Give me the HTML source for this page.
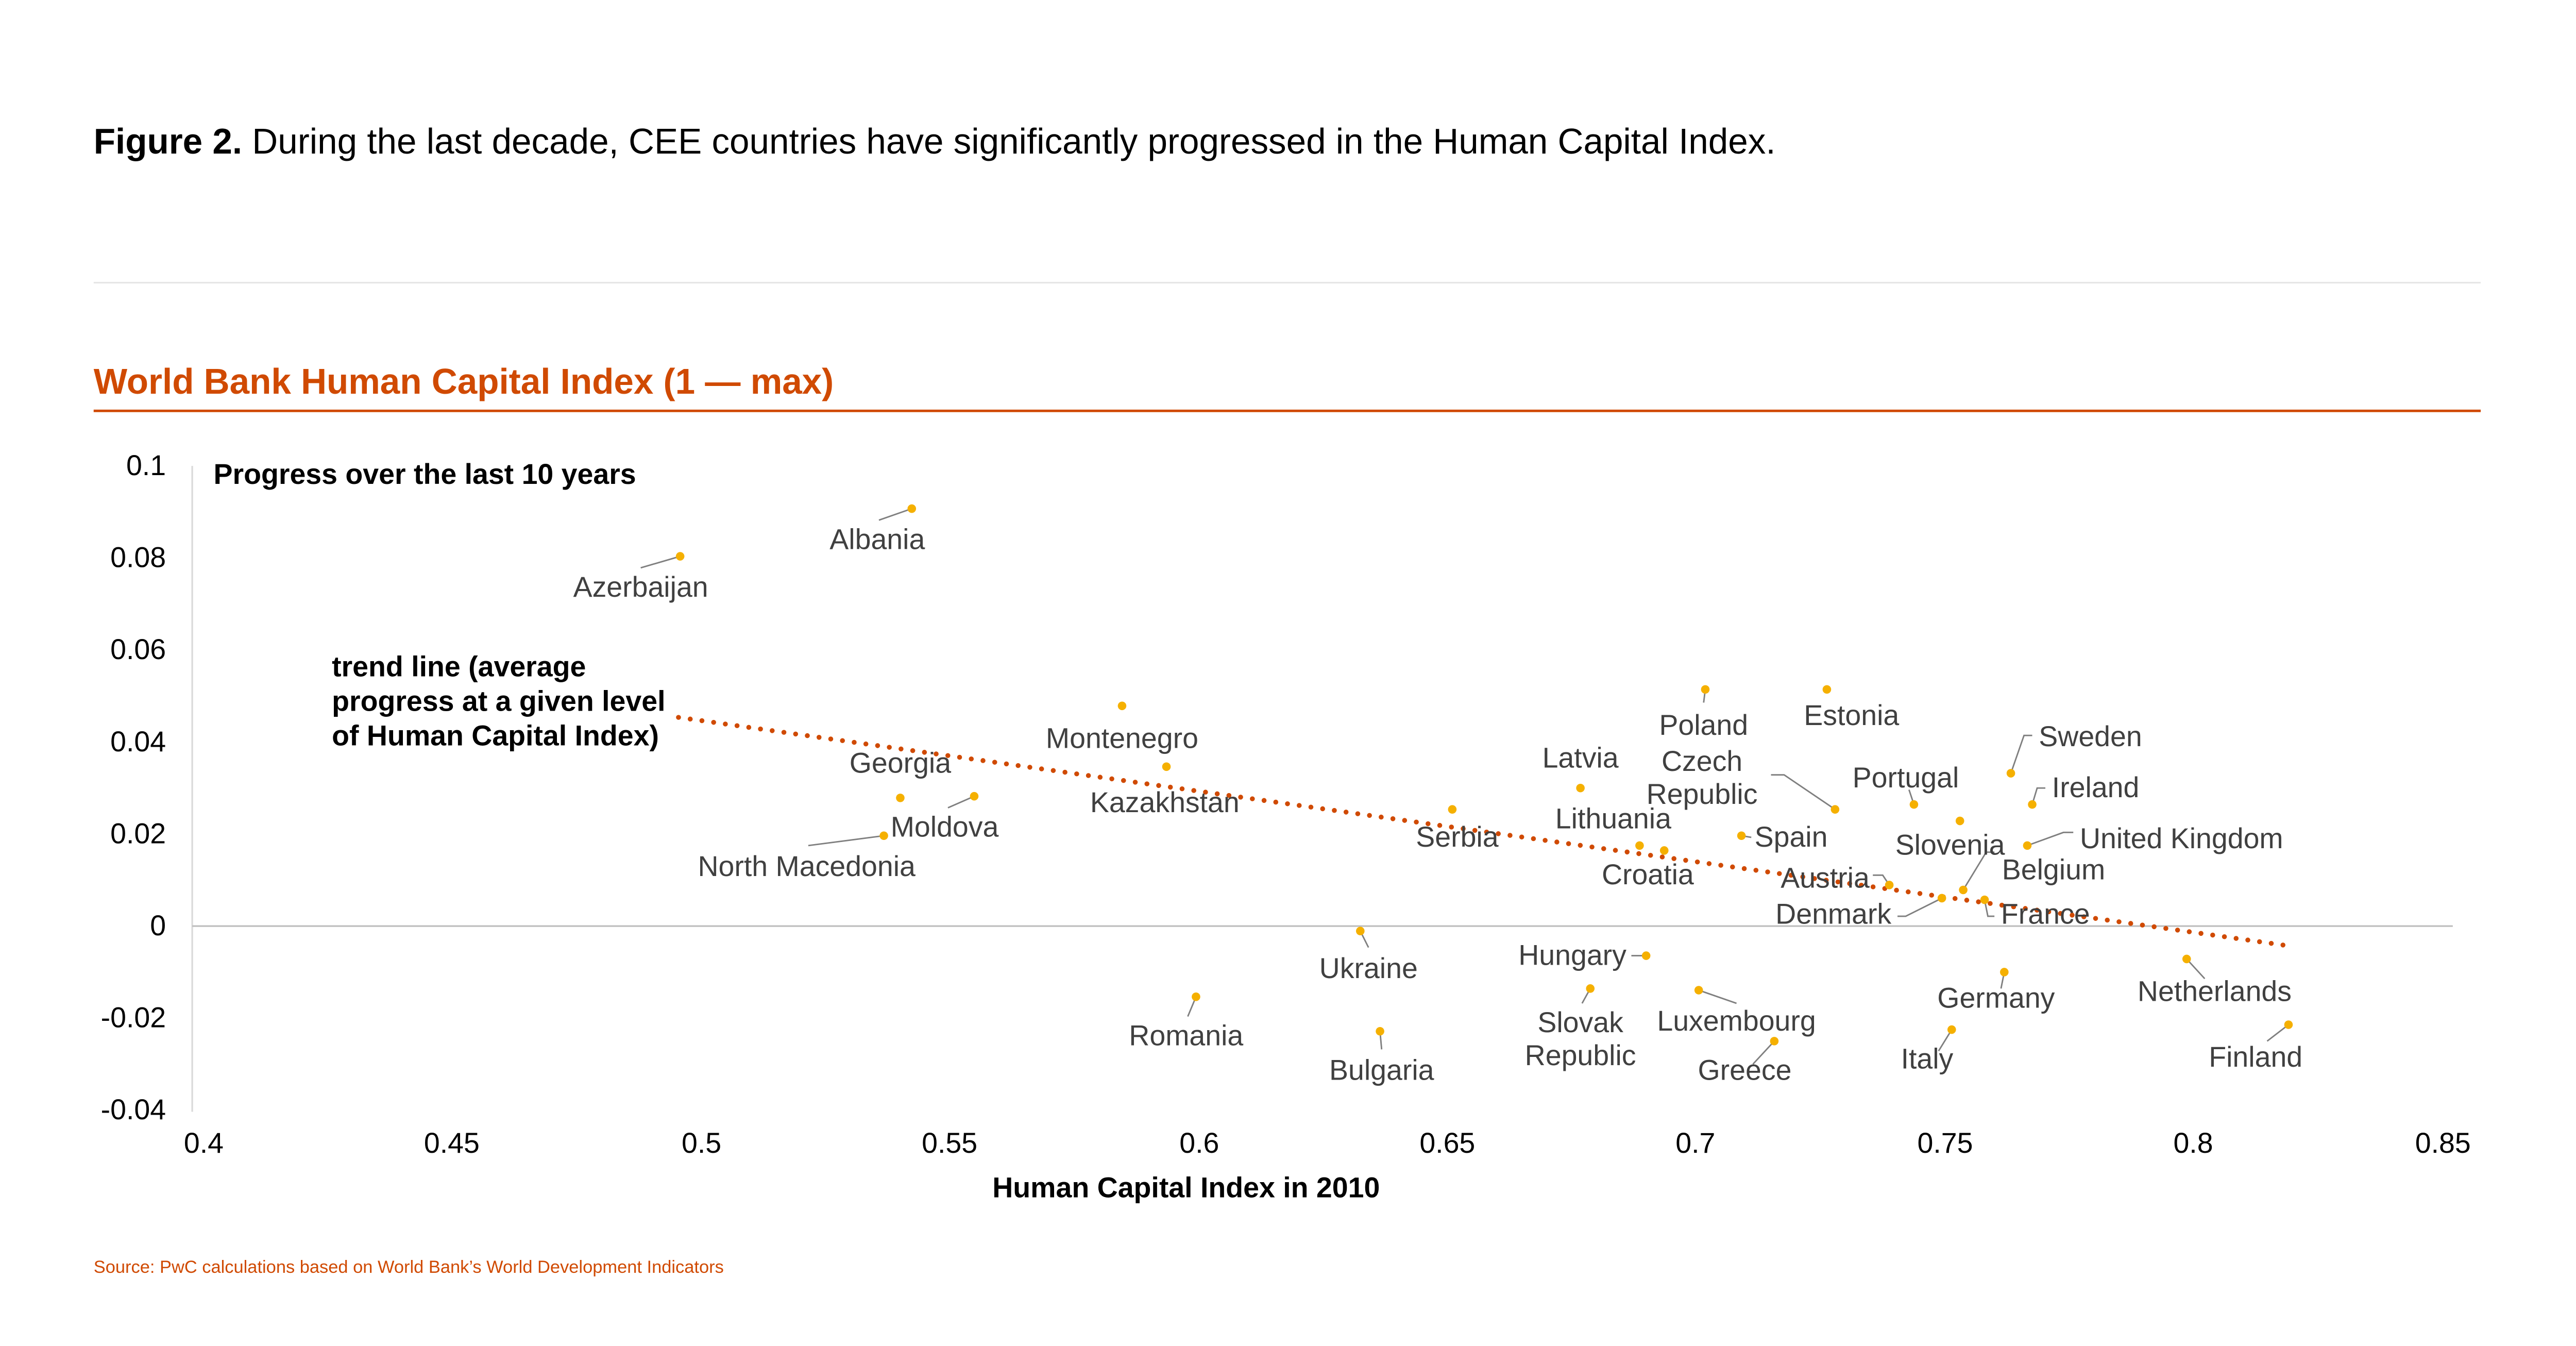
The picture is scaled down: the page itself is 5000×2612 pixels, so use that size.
<!DOCTYPE html>
<html><head><meta charset="utf-8"><style>
html,body{margin:0;padding:0;background:#fff;}
svg{display:block;}
text{font-family:"Liberation Sans",Arial,sans-serif;}
.l{font-size:17.4px;fill:#404040;}
.t{font-size:17.4px;fill:#000;}
.k{stroke:#7f7f7f;stroke-width:0.9;fill:none;}
</style></head><body>
<svg width="5000" height="2612" viewBox="0 0 1568 819" preserveAspectRatio="none" xmlns="http://www.w3.org/2000/svg">
<rect width="1568" height="819" fill="#fff"/>
<g transform="translate(0,1.5)">
<text x="57" y="92" font-size="21.7" fill="#000"><tspan font-weight="bold">Figure 2.</tspan> During the last decade, CEE countries have significantly progressed in the Human Capital Index.</text>
<line x1="57" y1="170.5" x2="1510" y2="170.5" stroke="#e6e6e6" stroke-width="1"/>
<text x="57" y="238" font-size="21.7" font-weight="bold" fill="#d04a02">World Bank Human Capital Index (1 — max)</text>
<line x1="57" y1="248.5" x2="1510" y2="248.5" stroke="#d04a02" stroke-width="1.5"/>
<line x1="117" y1="282" x2="117" y2="675" stroke="#d9d9d9" stroke-width="1"/>
<line x1="117" y1="562" x2="1493" y2="562" stroke="#bfbfbf" stroke-width="1"/>
<g class="t" text-anchor="end" dominant-baseline="middle">
<text x="101" y="283">0.1</text><text x="101" y="339">0.08</text><text x="101" y="395">0.06</text><text x="101" y="451">0.04</text><text x="101" y="507">0.02</text><text x="101" y="563">0</text><text x="101" y="619">-0.02</text><text x="101" y="675">-0.04</text>
</g>
<g class="t" text-anchor="middle">
<text x="124" y="700">0.4</text><text x="275" y="700">0.45</text><text x="427" y="700">0.5</text><text x="578" y="700">0.55</text><text x="730" y="700">0.6</text><text x="881" y="700">0.65</text><text x="1032" y="700">0.7</text><text x="1184" y="700">0.75</text><text x="1335" y="700">0.8</text><text x="1487" y="700">0.85</text>
</g>
<text x="722" y="727" text-anchor="middle" font-size="17.4" font-weight="bold">Human Capital Index in 2010</text>
<text x="57" y="773" font-size="10.8" fill="#d04a02">Source: PwC calculations based on World Bank’s World Development Indicators</text>
<text x="130" y="293" font-size="17.4" font-weight="bold">Progress over the last 10 years</text>
<g font-size="17.4" font-weight="bold"><text x="202" y="410">trend line (average</text><text x="202" y="431">progress at a given level</text><text x="202" y="452">of Human Capital Index)</text></g>
<line x1="413" y1="435" x2="1393" y2="574" stroke="#d04a02" stroke-width="3" stroke-linecap="round" stroke-dasharray="0 7.2"/>
<g class="k">
<path d="M555 308L535 315"/><path d="M414 337L390 344"/><path d="M593 483L577 490"/><path d="M538 507L492 513"/>
<path d="M828 565L833 575"/><path d="M728 605L723 617"/><path d="M840 626L841 637"/><path d="M1002 580L993 580"/>
<path d="M968 600L963 609"/><path d="M1034 601L1057 609"/><path d="M1080 632L1067 646"/><path d="M1038 418L1037 426"/>
<path d="M1117 491L1086 470L1078 470"/><path d="M1060 507L1066 508"/><path d="M1165 488L1162 479"/><path d="M1150 537L1146 531L1140 531"/>
<path d="M1182 545L1160 556L1155 556"/><path d="M1195 540L1209 517L1214 517"/><path d="M1208 546L1210 556L1214 556"/>
<path d="M1220 590L1218 600"/><path d="M1188 625L1180 638"/><path d="M1331 582L1342 594"/><path d="M1393 622L1380 632"/>
<path d="M1224 469L1232 446L1237 446"/><path d="M1237 488L1240 478L1245 478"/><path d="M1234 513L1256 505L1262 505"/>
</g>
<g fill="#f5b000">
<circle cx="555" cy="308" r="2.6"/><circle cx="414" cy="337" r="2.6"/><circle cx="683" cy="428" r="2.6"/><circle cx="548" cy="484" r="2.6"/>
<circle cx="593" cy="483" r="2.6"/><circle cx="538" cy="507" r="2.6"/><circle cx="710" cy="465" r="2.6"/><circle cx="884" cy="491" r="2.6"/>
<circle cx="828" cy="565" r="2.6"/><circle cx="728" cy="605" r="2.6"/><circle cx="840" cy="626" r="2.6"/><circle cx="1002" cy="580" r="2.6"/>
<circle cx="968" cy="600" r="2.6"/><circle cx="1034" cy="601" r="2.6"/><circle cx="1080" cy="632" r="2.6"/><circle cx="962" cy="478" r="2.6"/>
<circle cx="998" cy="513" r="2.6"/><circle cx="1013" cy="516" r="2.6"/><circle cx="1038" cy="418" r="2.6"/><circle cx="1117" cy="491" r="2.6"/>
<circle cx="1112" cy="418" r="2.6"/><circle cx="1060" cy="507" r="2.6"/><circle cx="1165" cy="488" r="2.6"/><circle cx="1193" cy="498" r="2.6"/>
<circle cx="1150" cy="537" r="2.6"/><circle cx="1182" cy="545" r="2.6"/><circle cx="1195" cy="540" r="2.6"/><circle cx="1208" cy="546" r="2.6"/>
<circle cx="1220" cy="590" r="2.6"/><circle cx="1188" cy="625" r="2.6"/><circle cx="1331" cy="582" r="2.6"/><circle cx="1393" cy="622" r="2.6"/>
<circle cx="1224" cy="469" r="2.6"/><circle cx="1237" cy="488" r="2.6"/><circle cx="1234" cy="513" r="2.6"/>
</g>
<g class="l" text-anchor="middle" dominant-baseline="middle">
<text x="534" y="328">Albania</text><text x="390" y="357">Azerbaijan</text><text x="683" y="449">Montenegro</text><text x="548" y="464">Georgia</text>
<text x="575" y="503">Moldova</text><text x="491" y="527">North Macedonia</text><text x="709" y="488">Kazakhstan</text><text x="887" y="509">Serbia</text>
<text x="833" y="589">Ukraine</text><text x="722" y="630">Romania</text><text x="841" y="651">Bulgaria</text>
<text x="962" y="622">Slovak</text><text x="962" y="642">Republic</text><text x="1057" y="621">Luxembourg</text><text x="1062" y="651">Greece</text>
<text x="962" y="461">Latvia</text><text x="982" y="498">Lithuania</text><text x="1003" y="532">Croatia</text><text x="1037" y="441">Poland</text>
<text x="1036" y="463">Czech</text><text x="1036" y="483">Republic</text><text x="1127" y="435">Estonia</text><text x="1160" y="473">Portugal</text>
<text x="1187" y="514">Slovenia</text><text x="1116" y="556">Denmark</text><text x="1250" y="529">Belgium</text><text x="1215" y="607">Germany</text>
<text x="1173" y="644">Italy</text><text x="1348" y="603">Netherlands</text><text x="1373" y="643">Finland</text>
</g>
<g class="l" dominant-baseline="middle">
<text x="990" y="581" text-anchor="end">Hungary</text><text x="1138" y="534" text-anchor="end">Austria</text>
<text x="1068" y="509">Spain</text><text x="1218" y="556">France</text><text x="1241" y="448">Sweden</text><text x="1249" y="479">Ireland</text><text x="1266" y="510">United Kingdom</text>
</g>
</g>
</svg>
</body></html>
